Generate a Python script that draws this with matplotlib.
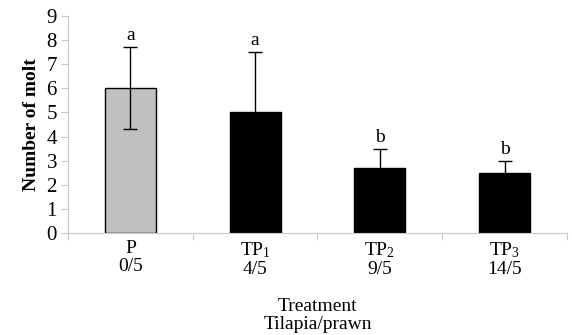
import matplotlib
matplotlib.use("Agg")
import matplotlib.pyplot as plt
import numpy as np

categories = ["P", "TP$_1$", "TP$_2$", "TP$_3$"]
ratios = ["0/5", "4/5", "9/5", "14/5"]
values = [6.0, 5.0, 2.7, 2.5]
errors = [1.7, 2.5, 0.8, 0.5]
letters = ["a", "a", "b", "b"]
colors = ["#c0c0c0", "#000000", "#000000", "#000000"]

plt.rcParams["font.family"] = "Liberation Serif"
plt.rcParams["mathtext.fontset"] = "custom"
plt.rcParams["mathtext.rm"] = "Liberation Serif"
plt.rcParams["mathtext.it"] = "Liberation Serif:italic"

fig = plt.figure(figsize=(5.72, 3.35), dpi=100)
ax = fig.add_axes([0.119, 0.304, 0.872, 0.649])

x = np.arange(len(categories))
ax.bar(x, values, width=0.41, color=colors, edgecolor="black", linewidth=1.0, zorder=2)
ax.errorbar(x, values, yerr=errors, fmt="none", ecolor="black", elinewidth=1.0,
            capsize=5, capthick=1.0, zorder=3)
for xi, v, e, l in zip(x, values, errors, letters):
    ax.text(xi, v + e + 0.12, l, ha="center", va="bottom", fontsize=14)

ax.set_xlim(-0.5, len(categories) - 0.5)
ax.set_ylim(0, 9)
ax.set_yticks(range(0, 10))
ax.tick_params(axis="y", labelsize=15, color="#c8c8c8", length=5, width=0.8, pad=3)
ax.set_xticks(x)
ax.set_xticklabels([f"{c}\n{r}" for c, r in zip(categories, ratios)], fontsize=14,
                   linespacing=1.1)
ax.tick_params(axis="x", length=0, pad=5)
ax.set_xticks(np.arange(-0.5, len(categories), 1.0), minor=True)
ax.tick_params(axis="x", which="minor", length=5, color="#c8c8c8", width=0.8)

for side in ["top", "right"]:
    ax.spines[side].set_visible(False)
for side in ["left", "bottom"]:
    ax.spines[side].set_color("#c8c8c8")
    ax.spines[side].set_linewidth(0.8)

ax.set_ylabel("Number of molt", fontsize=14, fontweight="bold", labelpad=5)
ax.set_xlabel("Treatment\nTilapia/prawn", fontsize=14, labelpad=14, linespacing=1.12)

fig.savefig("out.png", dpi=100)
